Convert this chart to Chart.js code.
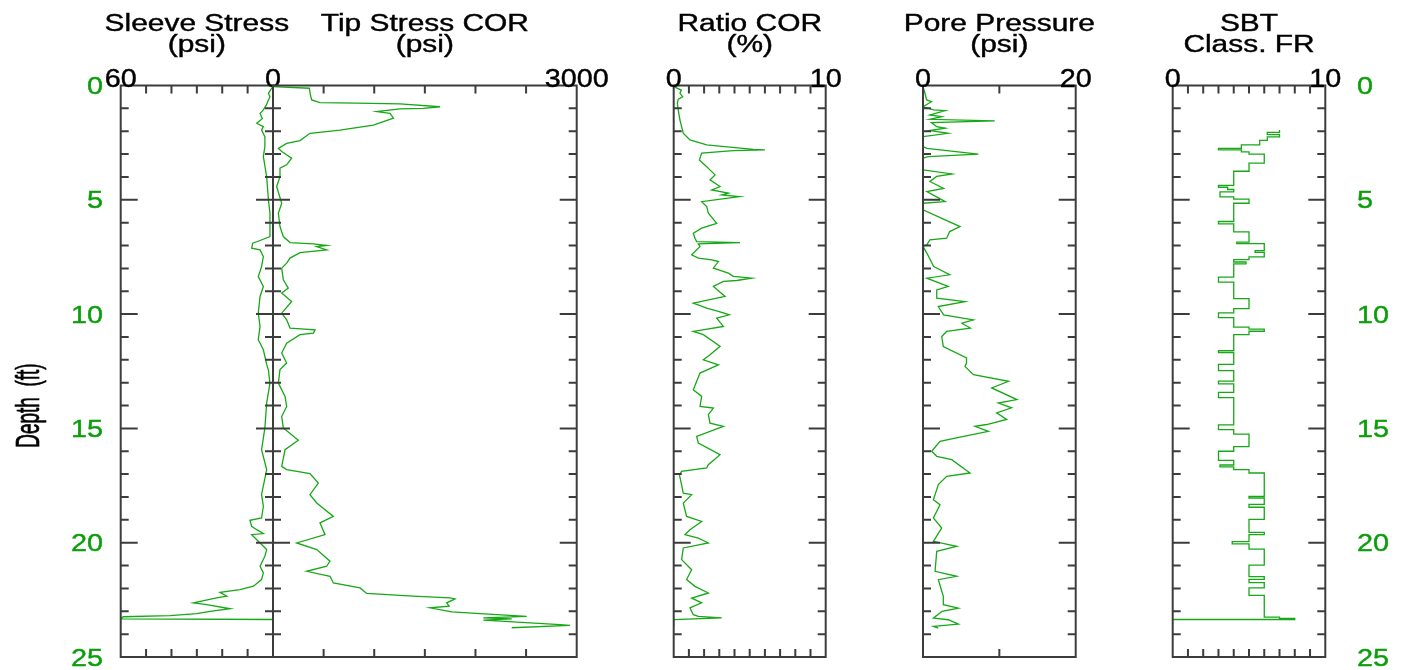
<!DOCTYPE html>
<html>
<head>
<meta charset="utf-8">
<script src="https://cdn.jsdelivr.net/npm/chart.js@4.4.0/dist/chart.umd.min.js"></script>
<style>
    html, body { margin: 0; padding: 0; background: #fff; }
    #wrap { position: relative; width: 1403px; height: 670px; }
    #wrap canvas { position: absolute; left: 0; top: 0; }
</style>
</head>
<body>
<div id="wrap">
    <canvas id="sleeve" width="1403" height="670"></canvas>
    <canvas id="tip" width="1403" height="670"></canvas>
    <canvas id="ratio" width="1403" height="670"></canvas>
    <canvas id="pore" width="1403" height="670"></canvas>
    <canvas id="sbt" width="1403" height="670"></canvas>
</div>
<script>
const sleeveDepth = [0.05,0.12,0.34,0.49,0.63,0.85,1.07,1.22,1.45,1.65,1.8,1.95,2.24,2.67,3.11,3.99,5.0,5.59,6.61,6.78,
    6.9,7.12,7.19,7.48,7.92,8.36,8.79,9.23,9.96,10.54,11.12,11.56,12.2,12.45,13.02,13.89,14.98,15.93,16.8,17.9,
    18.41,18.92,19.02,19.28,19.43,19.6,19.65,20.01,20.3,20.59,21.03,21.32,21.61,21.9,22.05,22.17,22.34,22.41,22.63,22.71,
    22.89,23.0,23.1,23.19,23.24,23.33,23.36];
const sleeveStress = [0,0.5,1.8,1.2,1.8,2.6,3.8,5.1,4.2,6.4,3.8,4.5,3.2,3.2,3.8,2.5,1.8,1.2,1.2,5.1,
    8.0,8.4,5.1,3.8,4.5,5.8,3.8,5.1,5.8,5.1,5.8,3.8,2.5,1.8,1.2,2.5,3.2,4.5,2.5,4.5,
    3.8,4.5,9.1,8.4,6.4,3.8,8.4,5.1,2.5,3.2,5.1,3.8,4.5,7.7,13,20.9,18.2,22.2,31.4,26.1,
    16.9,24.8,30.1,40.6,59,60,0];

const tipDepth = [0.05,0.12,0.42,0.63,0.75,0.77,0.8,0.93,1.0,1.02,1.14,1.22,1.43,1.58,1.73,1.95,2.09,2.41,2.53,2.75,
    2.89,3.18,3.47,3.62,3.99,4.42,5.15,5.59,6.17,6.61,6.87,6.93,7.0,7.05,7.19,7.31,7.55,7.77,7.99,8.5,
    8.86,9.08,9.45,9.96,10.25,10.61,10.69,10.83,10.9,11.27,11.7,12.14,12.43,13.02,13.6,14.04,14.48,14.98,15.52,15.93,
    16.66,16.8,16.98,17.39,17.9,18.26,18.85,19.13,19.65,20.01,20.3,20.81,21.03,21.25,21.47,21.76,21.98,22.22,22.34,22.41,
    22.46,22.63,22.78,22.85,23.03,23.1,23.22,23.29,23.33,23.39,23.58,23.62,23.72];
const tipStress = [0,359,370,382,464,826,1254,1650,1485,1254,1024,1156,1190,1090,991,662,365,267,135,53,
    86,184,135,69,69,36,86,53,69,102,168,399,530,432,530,267,168,135,86,102,
    151,86,184,86,135,168,415,399,267,135,86,135,69,53,119,135,86,102,250,119,
    86,135,365,448,365,432,596,464,514,234,432,563,530,333,563,596,860,926,1384,1749,
    1798,1716,1740,1551,1765,2045,2506,2078,2358,2078,2835,2934,2358];

const ratioDepth = [0.05,0.2,0.34,0.49,0.6,0.78,1.07,1.51,1.8,2.09,2.38,2.6,2.7,2.79,2.82,2.85,2.96,3.26,3.55,3.91,
    4.13,4.42,4.57,4.71,4.79,4.86,5.08,5.3,5.59,6.03,6.24,6.46,6.68,6.83,6.87,6.93,7.04,7.41,7.55,7.63,
    7.7,7.99,8.21,8.35,8.43,8.53,8.57,8.79,9.23,9.52,9.74,9.88,10.03,10.18,10.54,10.76,10.9,11.41,11.78,12.0,
    12.22,12.58,13.31,13.6,14.04,14.11,14.4,14.77,14.91,15.35,15.64,16.15,16.59,16.73,16.88,17.03,17.83,17.9,18.27,18.85,
    19.07,19.43,19.65,19.8,19.87,20.01,20.23,20.74,21.18,21.61,21.91,22.2,22.42,22.63,22.85,23.15,23.22,23.29,23.36,23.65];
const ratioCor = [0,0.5,0.41,0.59,0.3,0.24,0.3,0.41,0.52,0.63,1.07,2.17,3.7,5.24,6.0,3.92,1.84,1.69,2.17,2.72,
    2.39,3.05,2.5,3.6,3.16,4.32,1.84,2.17,2.28,2.83,1.84,1.29,1.4,1.51,4.36,1.62,1.73,1.18,1.62,2.5,
    2.94,2.61,3.6,3.92,5.13,4.14,3.27,2.61,3.38,1.29,2.17,2.94,3.66,2.83,3.27,1.29,1.95,3.05,2.39,1.95,
    2.94,1.73,1.29,1.84,1.73,2.61,2.28,2.39,3.27,1.51,1.62,3.05,2.28,2.17,0.52,0.38,0.63,1.18,0.63,0.85,
    1.84,1.07,0.74,1.62,1.84,2.28,0.63,0.52,1.18,0.85,1.4,2.28,1.18,1.84,1.07,1.29,1.62,3.16,0,0];

const poreDepth = [0.05,0.34,0.63,0.71,0.93,1.07,1.1,1.29,1.36,1.48,1.55,1.62,1.8,1.87,1.97,2.09,2.24,2.67,2.75,3.0,
    3.11,3.18,3.69,3.87,3.98,4.2,4.5,4.64,5.08,5.15,5.44,6.17,6.39,6.68,6.75,6.97,7.04,7.33,7.92,8.28,
    8.43,8.79,8.94,9.3,9.45,9.67,10.03,10.25,10.4,10.61,10.76,10.98,11.42,11.92,12.14,12.29,12.65,12.94,13.23,13.74,
    13.89,14.1,14.32,14.61,14.83,14.91,15.13,15.38,15.57,16.0,16.22,16.37,16.95,17.1,17.46,18.12,18.34,18.92,19.36,19.94,
    20.16,20.38,21.25,21.47,21.62,22.35,22.71,22.86,23.0,23.3,23.37,23.56,23.66,23.74];
const porePressure = [0,0.26,0.48,1.1,0,1.4,2.9,0.9,2.45,0.9,9.4,1.1,1.8,2.9,0.9,3.3,0,0,0.5,7.25,
    0.7,0,0,3.8,1.8,0.9,2.7,0.5,2.9,0,0,4.85,3.5,3.1,0.9,0.5,0,0.5,1.4,3.5,
    0.5,3.3,1.8,1.8,5.5,2.0,2.7,6.6,5.1,6.2,3.1,2.45,2.66,5.7,5.7,5.5,6.6,11.2,9.0,12.3,
    9.87,11.6,9.65,10.96,8.34,6.81,8.56,4.85,2.23,1.14,1.8,3.76,6.16,3.1,2.01,1.36,2.23,1.36,2.45,1.36,
    4.41,1.8,1.58,4.41,2.01,2.66,2.66,4.63,2.5,1.36,3.32,4.63,1.36,2.01];

// SBT class holds from each depth down to the next one
const sbtDepth = [1.95,2.05,2.15,2.25,2.4,2.6,2.75,2.82,2.9,3.0,3.4,3.75,4.37,4.45,4.55,4.65,4.87,4.97,5.15,5.95,
    6.05,6.4,6.85,6.92,7.22,7.3,7.5,7.62,7.72,7.8,8.38,8.6,9.32,9.76,9.95,10.15,10.57,10.66,10.75,10.9,
    11.6,11.68,12.2,12.47,12.93,13.05,13.42,13.65,14.85,15.05,15.25,15.8,16.0,16.4,16.6,16.68,16.8,16.95,17.98,18.05,
    18.32,18.45,18.98,19.55,19.65,19.95,20.05,20.28,20.98,21.48,21.6,21.75,21.98,22.3,23.26,23.31,23.36];
const sbtClass = [7.0,6.2,7.0,6.2,5.7,4.5,3.0,4.5,5.0,6.0,5.0,4.0,3.0,3.6,4.0,3.1,4.0,5.0,4.0,3.0,
    4.0,5.0,4.2,6.0,5.4,6.0,5.0,4.0,4.8,4.0,3.0,4.0,5.0,4.0,3.0,4.0,5.0,6.0,5.0,4.0,
    3.0,4.0,3.0,4.0,3.0,4.0,3.0,4.0,3.0,4.0,5.0,4.0,3.0,4.0,3.1,4.0,5.0,6.0,5.0,6.0,
    5.0,6.0,5.0,6.0,5.0,3.9,5.0,6.0,5.0,6.0,5.0,6.0,5.0,6.0,7.0,8.0,0];

// axis ticks and labels
const depthTicks = [1,2,3,4,5,6,7,8,9,10,11,12,13,14,15,16,17,18,19,20,21,22,23,24];
const depthLabels = [0,5,10,15,20,25];
const sleeveTicks = [10,20,30,40,50];
const tipTicks = [500,1000,1500,2000,2500];
const ratioTicks = [1,2,3,4,5,6,7,8,9];
const poreTicks = [10];
const sbtTicks = [1,2,3,4,5,6,7,8,9];

const W = 1403, H = 670;
const TOP = 85.5, BOTTOM = 657;
const lineGreen = '#16a816';
const labelGreen = '#0b9e0b';
const frameColor = '#3c3c3c';
const fontFamily = '"Liberation Sans", Arial, sans-serif';

function pairs(depths, values) {
    return depths.map((d, i) => ({ x: values[i], y: d }));
}

// the original log's lettering is wide and heavy, so stretch it and add a thin outline
function stretchText(ctx, str, x, y, align, sx) {
    ctx.save();
    ctx.translate(x, y);
    ctx.scale(sx, 1);
    ctx.textAlign = align;
    ctx.fillText(str, 0, 0);
    ctx.lineWidth = 0.4;
    ctx.strokeStyle = ctx.fillStyle;
    ctx.strokeText(str, 0, 0);
    ctx.restore();
}

// frame, inward ticks and all the text of one track
const trackPlugin = {
    id: 'track',
    afterDraw(chart, args, opts) {
        const ctx = chart.ctx;
        const a = chart.chartArea;
        const xs = chart.scales.x;
        const ys = chart.scales.y;
        ctx.save();
        ctx.strokeStyle = frameColor;
        ctx.lineWidth = 2;
        ctx.strokeRect(a.left, a.top, a.right - a.left, a.bottom - a.top);
        ctx.beginPath();
        opts.xTicks.forEach(v => {
            const x = xs.getPixelForValue(v);
            ctx.moveTo(x, a.top); ctx.lineTo(x, a.top + 8);
            ctx.moveTo(x, a.bottom); ctx.lineTo(x, a.bottom - 8);
        });
        depthTicks.forEach(d => {
            const y = ys.getPixelForValue(d);
            const len = d % 5 === 0 ? 17 : 8;
            ctx.moveTo(a.left, y); ctx.lineTo(a.left + len, y);
            ctx.moveTo(a.right, y); ctx.lineTo(a.right - len, y);
        });
        ctx.stroke();

        // track title
        ctx.fillStyle = '#000';
        ctx.textBaseline = 'alphabetic';
        ctx.font = '23px ' + fontFamily;
        const cx = (a.left + a.right) / 2;
        stretchText(ctx, opts.title[0], cx, 31, 'center', 1.3);
        stretchText(ctx, opts.title[1], cx, 52, 'center', 1.3);

        // scale end labels
        ctx.font = '25px ' + fontFamily;
        opts.endLabels.forEach(v => {
            stretchText(ctx, String(v), xs.getPixelForValue(v), 87, 'center', 1.15);
        });

        // depth labels
        if (opts.depthSide) {
            ctx.fillStyle = labelGreen;
            ctx.textBaseline = 'middle';
            ctx.font = '24px ' + fontFamily;
            depthLabels.forEach(d => {
                const y = ys.getPixelForValue(d) + 2;
                if (opts.depthSide === 'left') stretchText(ctx, String(d), 103, y, 'right', 1.2);
                else stretchText(ctx, String(d), 1357, y, 'left', 1.2);
            });
        }
        if (opts.axisTitle) {
            ctx.fillStyle = '#000';
            ctx.textBaseline = 'middle';
            ctx.font = '19px ' + fontFamily;
            ctx.save();
            ctx.translate(30, ys.getPixelForValue(14.0));
            ctx.scale(1.75, 1);
            ctx.rotate(-Math.PI / 2);
            ctx.textAlign = 'center';
            ctx.fillText(opts.axisTitle, 0, 0);
            ctx.lineWidth = 0.4;
            ctx.strokeStyle = '#000';
            ctx.strokeText(opts.axisTitle, 0, 0);
            ctx.restore();
        }
        ctx.restore();
    }
};

function makeTrack(id, left, right, points, xMin, xMax, reverse, track, stepped) {
    return new Chart(document.getElementById(id), {
        type: 'scatter',
        data: {
            datasets: [{
                data: points,
                showLine: true,
                stepped: stepped || false,
                borderColor: lineGreen,
                borderWidth: 1.3,
                pointRadius: 0,
                fill: false
            }]
        },
        options: {
            responsive: false,
            animation: false,
            layout: { padding: { left: left, right: W - right, top: TOP, bottom: H - BOTTOM } },
            scales: {
                x: { type: 'linear', min: xMin, max: xMax, reverse: reverse, display: false },
                y: { type: 'linear', min: 0, max: 25, reverse: true, display: false }
            },
            plugins: {
                legend: { display: false },
                tooltip: { enabled: false },
                track: track
            }
        },
        plugins: [trackPlugin]
    });
}

makeTrack('sleeve', 120.7, 273, pairs(sleeveDepth, sleeveStress), 0, 60, true, {
    xTicks: sleeveTicks, title: ['Sleeve Stress', '(psi)'], endLabels: [60, 0],
    depthSide: 'left', axisTitle: 'Depth  (ft)'
});
makeTrack('tip', 273, 576.7, pairs(tipDepth, tipStress), 0, 3000, false, {
    xTicks: tipTicks, title: ['Tip Stress COR', '(psi)'], endLabels: [3000]
});
makeTrack('ratio', 673.7, 825.7, pairs(ratioDepth, ratioCor), 0, 10, false, {
    xTicks: ratioTicks, title: ['Ratio COR', '(%)'], endLabels: [0, 10]
});
makeTrack('pore', 923, 1075.7, pairs(poreDepth, porePressure), 0, 20, false, {
    xTicks: poreTicks, title: ['Pore Pressure', '(psi)'], endLabels: [0, 20]
});
makeTrack('sbt', 1172.7, 1325.3, pairs(sbtDepth, sbtClass), 0, 10, false, {
    xTicks: sbtTicks, title: ['SBT', 'Class. FR'], endLabels: [0, 10],
    depthSide: 'right'
}, 'after');
</script>
</body>
</html>
